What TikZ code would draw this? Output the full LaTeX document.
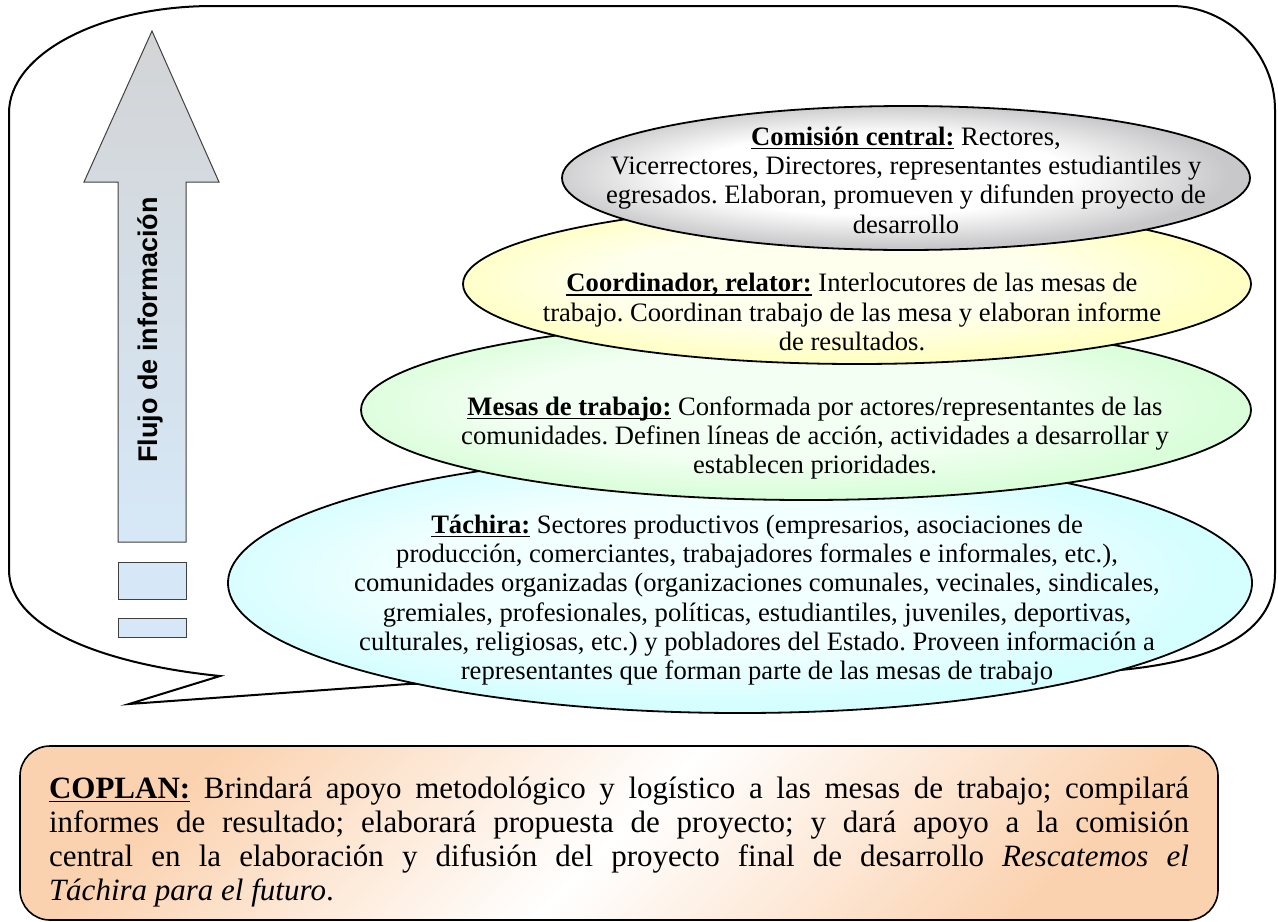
\documentclass[tikz,border=0pt]{standalone}
\usepackage{fontspec}
\setmainfont{Liberation Serif}
\newfontfamily\flowfont{Liberation Sans}
\usetikzlibrary{shapes.geometric}
\frenchspacing

\newsavebox{\ulbox}
\newcommand{\ulhead}[1]{\sbox{\ulbox}{\textbf{#1}}\rlap{\rule[-2pt]{\wd\ulbox}{0.8pt}}\usebox{\ulbox}}

\definecolor{flowgray}{RGB}{211,212,214}
\definecolor{flowblue}{RGB}{214,232,247}
\definecolor{glowgray}{RGB}{200,200,202}
\definecolor{glowyellow}{RGB}{255,255,195}
\definecolor{glowgreen}{RGB}{218,254,218}
\definecolor{glowcyan}{RGB}{212,254,255}
\definecolor{coplanorange}{RGB}{251,210,175}

\pgfdeclareradialshading{grayglow}{\pgfpoint{-3bp}{2bp}}{color(0bp)=(white); color(14bp)=(white); color(25bp)=(glowgray); color(50bp)=(glowgray)}
\pgfdeclareradialshading{yellowglow}{\pgfpoint{-3bp}{2bp}}{color(0bp)=(glowyellow!30!white); color(14bp)=(glowyellow!30!white); color(25bp)=(glowyellow); color(50bp)=(glowyellow)}
\pgfdeclareradialshading{greenglow}{\pgfpoint{-3bp}{2bp}}{color(0bp)=(glowgreen!30!white); color(14bp)=(glowgreen!30!white); color(25bp)=(glowgreen); color(50bp)=(glowgreen)}
\pgfdeclareradialshading{cyanglow}{\pgfpoint{-3bp}{2bp}}{color(0bp)=(glowcyan!30!white); color(14bp)=(glowcyan!30!white); color(25bp)=(glowcyan); color(50bp)=(glowcyan)}

\begin{document}
\begin{tikzpicture}[x=0.5pt, y=-0.5pt,
  bubble/.style={draw, line width=1pt},
  flow/.style={draw=black!75, line width=0.5pt, top color=flowgray, bottom color=flowblue},
  block/.style={draw=black!75, line width=0.5pt, fill=flowblue},
  layer/.style={ellipse, draw, line width=0.9pt, inner sep=0pt, shade},
  lbl/.style={align=center, inner sep=0pt, font=\fontsize{13.3}{14.65}\selectfont},
  coplanbox/.style={draw, line width=0.8pt, rounded corners=15pt, top color=coplanorange, bottom color=coplanorange, middle color=white, shading angle=45},
  coplantxt/.style={text width=570pt, align=justify, inner sep=0pt, font=\fontsize{15.5}{17}\selectfont}]
  \useasboundingbox (0,0) rectangle (1278,921);

  \draw[bubble] (9,113) .. controls (9,54) and (100,6) .. (213,6) -- (1171,6)
    .. controls (1228,6) and (1275,53) .. (1275,110) -- (1275,573)
    .. controls (1275,628) and (1225,660) .. (1120,670) -- (408,684) -- (129,704) -- (220,676)
    .. controls (110,665) and (9,630) .. (9,570) -- cycle;

  % flujo de informacion
  \draw[flow] (152,31) -- (219,182) -- (186,182) -- (186,542) -- (118,542) -- (118,182) -- (84,182) -- cycle;
  \draw[block] (118,562) rectangle (186,599);
  \draw[block] (118,618) rectangle (186,637);
  \node[rotate=90, inner sep=0pt, font=\flowfont\bfseries\fontsize{13.5}{16}\selectfont] (flujo) at (150,330) {Flujo de información};

  % niveles
  \foreach \nm/\cx/\cy/\ew/\eh/\shd in {tachira/740/583/512/130/cyanglow, mesas/806/410/445/90/greenglow,
      coord/857/284/394/80/yellowglow, comision/906/178/344/72/grayglow}
    \node[layer, shading=\shd, minimum width=\ew pt, minimum height=\eh pt] (\nm) at (\cx,\cy) {};

  \node[lbl] (comtxt) at ([shift={(0,2)}]comision.center) {\ulhead{Comisión central:} Rectores,\\
    Vicerrectores, Directores, representantes estudiantiles y\\
    egresados. Elaboran, promueven y difunden proyecto de\\
    desarrollo};
  \node[lbl] (coordtxt) at ([shift={(-5,28)}]coord.center) {\ulhead{Coordinador, relator:} Interlocutores de las mesas de\\
    trabajo. Coordinan trabajo de las mesa y elaboran informe\\
    de resultados.};
  \node[lbl] (mesastxt) at ([shift={(9,28)}]mesas.center) {\ulhead{Mesas de trabajo:} Conformada por actores/representantes de las\\
    comunidades. Definen líneas de acción, actividades a desarrollar y\\
    establecen prioridades.};
  \node[lbl] (tachtxt) at ([shift={(17,17)}]tachira.center) {\ulhead{Táchira:} Sectores productivos (empresarios, asociaciones de\\
    producción, comerciantes, trabajadores formales e informales, etc.),\\
    comunidades organizadas (organizaciones comunales, vecinales, sindicales,\\
    gremiales, profesionales, políticas, estudiantiles, juveniles, deportivas,\\
    culturales, religiosas, etc.) y pobladores del Estado. Proveen información a\\
    representantes que forman parte de las mesas de trabajo};

  % coplan
  \draw[coplanbox] (20,746) rectangle (1218,920);
  \node[coplantxt] (coplan) at (619,842) {\ulhead{COPLAN:} Brindará apoyo metodológico y logístico a las mesas de trabajo; compilará\linebreak
    informes de resultado; elaborará propuesta de proyecto; y dará apoyo a la comisión\linebreak
    central en la elaboración y difusión del proyecto final de desarrollo \textit{Rescatemos el\linebreak
    Táchira para el futuro}.};
\end{tikzpicture}
\end{document}
